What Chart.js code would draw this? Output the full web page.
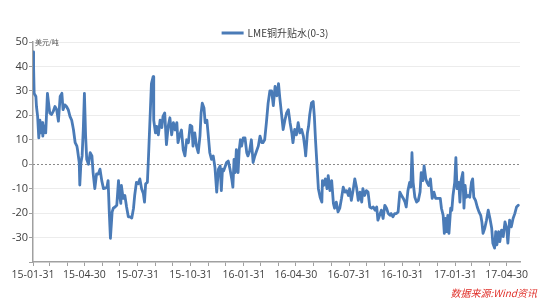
<!DOCTYPE html>
<html><head><meta charset="utf-8">
<script src="https://cdn.jsdelivr.net/npm/chart.js@4.4.1/dist/chart.umd.min.js"></script>
<style>html,body{margin:0;padding:0;background:#fff;}#wrap{position:relative;width:550px;height:300px;}</style>
</head><body><div id="wrap"><canvas id="c" width="550" height="300"></canvas></div>
<script>
const seriesName = 'LME铜升贴水(0-3)';
const unitLabel = '美元/吨';
const sourceLabel = '数据来源:Wind资讯';
const startYear = 2015, startMonth = 0; // 2015-01-31 = day 0
const tickLabels = ['15-01-31','15-04-30','15-07-31','15-10-31','16-01-31','16-04-30','16-07-31','16-10-31','17-01-31','17-04-30'];
const yTickValues = [-40,-30,-20,-10,0,10,20,30,40,50];
const dayOffsets = [0,1,2,5,6,8,10,12,14,16,17,19,21,22,25,27,29,32,35,38,41,44,47,50,52,55,58,61,64,67,70,73,76,77,80,81,83,85,87,89,91,93,96,99,102,104,107,110,113,116,119,122,125,128,130,132,134,137,139,142,145,148,149,152,153,156,159,162,165,168,171,174,176,179,182,185,188,191,193,195,198,200,205,208,209,212,214,217,220,223,225,228,231,234,237,240,243,246,249,251,254,257,260,263,266,269,272,275,277,280,283,286,289,291,293,296,298,301,303,306,309,312,315,318,321,324,326,328,330,333,335,338,341,344,346,348,350,352,355,357,359,361,364,367,370,372,375,378,381,384,387,390,393,396,398,401,404,407,410,413,416,419,422,425,427,430,433,436,439,442,445,448,450,453,456,459,462,465,468,471,472,475,477,479,482,485,487,489,491,494,497,500,501,503,506,509,511,514,517,520,522,525,528,531,534,537,540,543,546,548,551,554,557,560,563,566,569,571,574,577,580,583,586,589,592,595,597,600,603,606,609,612,615,618,620,623,626,629,632,635,638,641,644,646,649,652,654,656,658,661,664,667,670,672,675,677,680,682,685,688,691,694,697,699,702,705,707,710,712,714,716,718,720,723,725,727,730,732,734,737,739,741,744,746,748,750,753,756,759,761,763,766,769,772,775,777,779,782,785,788,791,794,796,799,801,803,806,808,811,814,817,820,822,825,828,831,834,837,840];
const premium = [46,40,29,27.7,23.6,19.6,10.8,18,12.8,17,11.5,15.8,14.9,12.8,29,25,21,20.3,21.6,23.6,22.3,17.6,27.7,29,22.3,24.3,23.6,22.3,19.6,18,14.2,8.8,7.4,6,0.7,-8.5,0.7,3.4,14,29,12,2,0,4.7,3.4,-3.4,-10,-4,-4,-2,-6.7,-10,-9.8,-9.4,-6.7,-19.5,-30.3,-19.5,-18,-17.5,-16.8,-6.7,-11.4,-16,-8.7,-14,-12.8,-17.5,-21.5,-21.5,-22,-18,-12.8,-7.4,-8,-6,-10,-12,-15.5,-8,-7.4,3.4,33,35.8,18,12.8,15.5,12,18,15,19.6,21,8,15.5,19,12,17,14,17,8.8,12,14,6,3.4,10,8.8,16,15.5,7.4,12.8,7.4,4.7,11.5,21,25,23,17,18,12.8,4.7,2,3.4,-1.4,-11.4,-2,-0.7,-10.8,-2,-2.7,-0.7,0.7,1.3,-2,-6,-9.4,2,-3.4,6,-3.4,6,10,7.4,10.8,10.8,4.7,3.4,5.4,10,0.7,3.4,5.4,7.4,11.5,8.8,8.8,10,17,25,30,30,24,31.8,28,33,27.7,21,14.2,18,21,22.3,17,12.8,8.8,14.2,12,17,12.8,14.2,11.5,6,3.4,12.8,15.5,20.3,25,25.7,19.6,10,2,-10,-13.5,-15.5,-6.7,-8.7,-6,-10,-4.7,-10.8,-6.7,-16,-18,-15.5,-19.5,-18,-14,-9.4,-11.4,-10.8,-12.8,-10,-14.8,-10.8,-6,-9.4,-14.8,-11.4,-15.5,-10,-12.8,-10.8,-11.4,-17.5,-18,-17.5,-18.8,-17.5,-22.9,-20.9,-18.8,-22.2,-16.8,-18,-20.2,-20.9,-20.2,-21.5,-20.2,-20.2,-19.5,-11.4,-12.8,-14,-15.5,-17.5,-10.8,-7.4,-9.4,4.7,-7.4,-13.5,-15.5,-14.8,-11.4,-3.4,-6.7,-0.7,-6,-7.4,-8.7,-6,-14,-11.4,-14,-14,-14,-14,-18,-20.9,-28.3,-22.2,-27.6,-20.9,-28.3,-18,-18.8,-12.8,-7.4,2.7,-10,-7.4,-15.5,-6.7,-3.4,-18,-8.7,-13.5,-12.8,-13.5,-7.4,-6,-13.5,-14.8,-17.5,-19.5,-20.9,-23.6,-28.3,-26.2,-22.9,-18.8,-22.2,-26.2,-32.3,-34.3,-27.6,-33,-27.6,-31.7,-27,-29.6,-23.6,-26.2,-32.3,-22.9,-25.6,-22.2,-20.2,-17.5,-16.8];

const lineColor = '#4a7bb7';
const txtColor = '#404040';
const axisColor = '#a0a0a0';
const dayMs = 86400000;
const t0 = Date.UTC(startYear, startMonth + 1, 0);
const monthEnds = [];
const monthLabels = {};
for (let m = 0; m < 28; m++) {
  const t = Date.UTC(startYear, startMonth + m + 1, 0);
  const d = new Date(t);
  const off = Math.round((t - t0) / dayMs);
  const lbl = String(d.getUTCFullYear()).slice(2) + '-' + String(d.getUTCMonth() + 1).padStart(2, '0') + '-' + String(d.getUTCDate()).padStart(2, '0');
  monthEnds.push(off);
  if (tickLabels.includes(lbl)) monthLabels[off] = lbl;
}
const points = dayOffsets.map((d, i) => ({x: d, y: premium[i]}));

const extras = {
  id: 'extras',
  beforeDatasetsDraw(chart) {
    const {ctx, chartArea, scales} = chart;
    const y0 = scales.y.getPixelForValue(0);
    ctx.save();
    ctx.strokeStyle = '#8a8a8a';
    ctx.lineWidth = 1;
    ctx.setLineDash([2, 2]);
    ctx.beginPath();
    ctx.moveTo(chartArea.left, Math.round(y0) + 0.5);
    ctx.lineTo(chartArea.right, Math.round(y0) + 0.5);
    ctx.stroke();
    ctx.restore();
  },
  afterDraw(chart) {
    const {ctx, chartArea} = chart;
    ctx.save();
    // legend
    ctx.font = '10px "Noto Sans CJK SC", "Open Sans", sans-serif';
    const tw = ctx.measureText(seriesName).width;
    const total = 22 + 4 + tw;
    const sx = 275 - total / 2;
    ctx.strokeStyle = lineColor;
    ctx.lineWidth = 3;
    ctx.beginPath();
    ctx.moveTo(sx, 33); ctx.lineTo(sx + 22, 33); ctx.stroke();
    ctx.fillStyle = txtColor;
    ctx.textBaseline = 'middle';
    ctx.textAlign = 'left';
    ctx.fillText(seriesName, sx + 26, 33);
    // unit
    ctx.font = '7px "Noto Sans CJK SC", sans-serif';
    ctx.fillStyle = '#555';
    ctx.fillText(unitLabel, chartArea.left + 2, chartArea.top);
    // source
    ctx.font = 'italic 10px "Noto Sans CJK SC", sans-serif';
    ctx.fillStyle = '#e0302a';
    ctx.textAlign = 'right';
    ctx.fillText(sourceLabel, 537, 293);
    ctx.restore();
  }
};

new Chart(document.getElementById('c'), {
  type: 'line',
  data: { datasets: [{ label: seriesName, data: points, borderColor: lineColor, backgroundColor: lineColor, borderWidth: 2.8, pointRadius: 0, tension: 0, borderJoinStyle: 'round', borderCapStyle: 'round' }] },
  options: {
    responsive: false, animation: false, devicePixelRatio: 1,
    layout: { padding: { top: 42, right: 30, left: 0, bottom: 0 } },
    plugins: { legend: { display: false }, tooltip: { enabled: false } },
    scales: {
      x: {
        type: 'linear', min: 0, max: 843,
        afterFit(s) { s.height = 38; },
        afterBuildTicks(s) { s.ticks = monthEnds.map(v => ({value: v})); },
        ticks: { autoSkip: false, maxRotation: 0, padding: 3, color: txtColor, font: { size: 10.5, family: '"Open Sans", "Noto Sans", sans-serif' }, callback: (v) => monthLabels[v] || '' },
        grid: { drawOnChartArea: false, drawTicks: true, tickLength: 4, tickColor: axisColor, tickWidth: 1 },
        border: { color: axisColor, width: 1.5 }
      },
      y: {
        min: -40, max: 50,
        afterFit(s) { s.width = 33; },
        afterBuildTicks(s) { s.ticks = yTickValues.map(v => ({value: v})); },
        ticks: { padding: 1, color: txtColor, font: { size: 11, family: '"Open Sans", "Noto Sans", sans-serif' }, callback: (v) => v === -40 ? '' : String(v) },
        grid: { color: (c) => (c.tick && (c.tick.value === 0 || c.tick.value === -40)) ? 'rgba(0,0,0,0)' : '#ececec', tickColor: axisColor, tickLength: 4, lineWidth: 1 },
        border: { color: axisColor, width: 1.5 }
      }
    }
  },
  plugins: [extras]
});
</script>
</body></html>
